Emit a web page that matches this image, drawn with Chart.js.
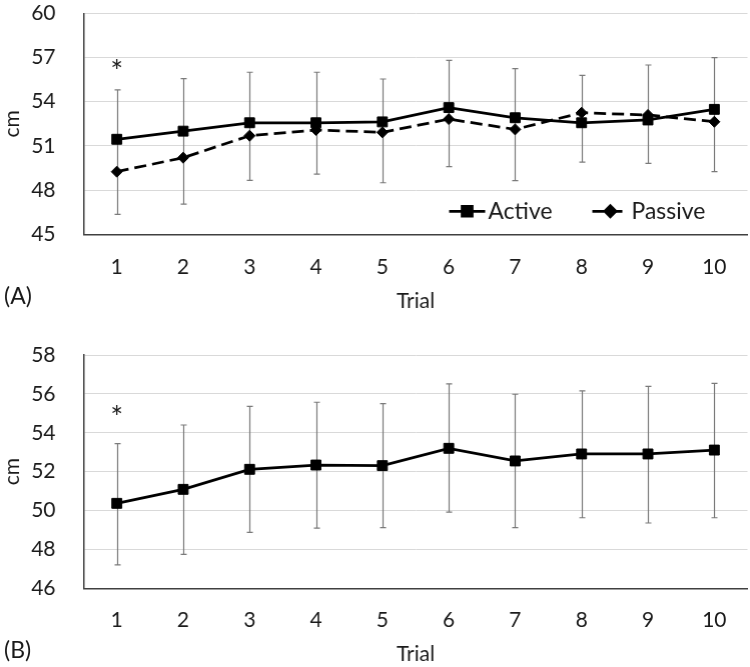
<!DOCTYPE html>
<html>
<head>
<meta charset="utf-8">
<script src="https://cdn.jsdelivr.net/npm/chart.js@4.4.1/dist/chart.umd.min.js"></script>
<style>
  html, body { margin: 0; padding: 0; background: #fff; overflow: hidden; }
  #wrap { position: relative; width: 750px; height: 667px; overflow: hidden; font-family: Lato, sans-serif; color: #1a1a1a; }
  .panel { position: absolute; left: 0; width: 754.5px; }
  .tag { position: absolute; left: 4px; font-size: 23px; line-height: 23px; }
</style>
</head>
<body>
<div id="wrap">
  <div class="panel" style="top:0;height:333px"><canvas id="chartA"></canvas></div>
  <div class="panel" style="top:333px;height:334px"><canvas id="chartB"></canvas></div>
  <div class="tag" style="top:284px">(A)</div>
  <div class="tag" style="top:638px">(B)</div>
</div>
<script>
// x categories
var trials = ['1', '2', '3', '4', '5', '6', '7', '8', '9', '10'];

// (A) active vs passive
var activeA  = [51.45, 52.0, 52.57, 52.57, 52.63, 53.6, 52.91, 52.57, 52.76, 53.48];
var passiveA = [49.25, 50.2, 51.69, 52.08, 51.92, 52.82, 52.12, 53.25, 53.1, 52.64];
var barHighA = [54.8, 55.56, 56.0, 56.0, 55.54, 56.81, 56.24, 55.79, 56.49, 56.99];
var barLowA  = [46.35, 47.05, 48.66, 49.09, 48.5, 49.59, 48.64, 49.9, 49.82, 49.25];
var yTicksA  = [45, 48, 51, 54, 57, 60];
var starA    = 56.0;   // "*" over trial 1

// (B) single series
var meanB    = [50.37, 51.09, 52.12, 52.34, 52.31, 53.2, 52.55, 52.91, 52.91, 53.11];
var barHighB = [53.44, 54.4, 55.36, 55.57, 55.5, 56.51, 55.98, 56.15, 56.39, 56.54];
var barLowB  = [47.2, 47.75, 48.88, 49.1, 49.12, 49.92, 49.12, 49.63, 49.36, 49.63];
var yTicksB  = [46, 48, 50, 52, 54, 56, 58];
var starB    = 54.75;

Chart.defaults.font.family = 'Lato';
Chart.defaults.color = '#1a1a1a';

var tickFont = { family: 'Lato', size: 21 };

// 誤差線 (drawn under the lines)
function errorBars(high, low) {
    return {
        id: 'errorBars',
        beforeDatasetsDraw: function(chart) {
            var x = chart.scales.x, y = chart.scales.y, ctx = chart.ctx;
            ctx.save();
            ctx.strokeStyle = '#7a7a7a';
            ctx.lineWidth = 1.2;
            high.forEach(function(hi, i) {
                var px = Math.round(x.getPixelForValue(i)) + 0.5;
                var top = y.getPixelForValue(hi);
                var bot = y.getPixelForValue(low[i]);
                ctx.beginPath();
                ctx.moveTo(px, top); ctx.lineTo(px, bot);
                ctx.moveTo(px - 3, top); ctx.lineTo(px + 3, top);
                ctx.moveTo(px - 3, bot); ctx.lineTo(px + 3, bot);
                ctx.stroke();
            });
            ctx.restore();
        }
    };
}

function starMark(value) {
    return {
        id: 'starMark',
        afterDatasetsDraw: function(chart) {
            var ctx = chart.ctx;
            ctx.save();
            ctx.font = '30px Lato';
            ctx.fillStyle = '#1a1a1a';
            ctx.textAlign = 'center';
            ctx.textBaseline = 'middle';
            ctx.fillText('*', chart.scales.x.getPixelForValue(0), chart.scales.y.getPixelForValue(value));
            ctx.restore();
        }
    };
}

// legend inside the plot, lower right
var insideLegend = {
    id: 'insideLegend',
    afterDatasetsDraw: function(chart) {
        var ctx = chart.ctx, area = chart.chartArea;
        var y = area.bottom - 23;
        var starts = [area.right - 298, area.right - 155];
        ctx.save();
        chart.data.datasets.forEach(function(ds, i) {
            var x0 = starts[i];
            ctx.strokeStyle = '#000';
            ctx.lineWidth = ds.borderWidth;
            ctx.setLineDash(ds.borderDash || []);
            ctx.beginPath();
            ctx.moveTo(x0, y); ctx.lineTo(x0 + 36, y);
            ctx.stroke();
            ctx.setLineDash([]);
            ctx.fillStyle = '#000';
            Chart.helpers.drawPoint(ctx, {
                pointStyle: ds.pointStyle, radius: ds.pointRadius, borderWidth: 1, rotation: 0
            }, x0 + 18, y);
            ctx.font = '23px Lato';
            ctx.fillStyle = '#1a1a1a';
            ctx.textAlign = 'left';
            ctx.textBaseline = 'middle';
            ctx.fillText(ds.label, x0 + 39, y);
        });
        ctx.restore();
    }
};

function buildOptions(ticks, padTop, xHeight, tickPad, titlePad) {
    return {
        responsive: true,
        maintainAspectRatio: false,
        animation: false,
        layout: { padding: { top: padTop, right: 0, left: 0, bottom: 0 } },
        plugins: {
            legend: { display: false },
            tooltip: { enabled: false }
        },
        scales: {
            x: {
                type: 'category',
                offset: true,
                grid: { display: false },
                border: { display: true, color: '#404040', width: 1.5 },
                ticks: { font: tickFont, color: '#1a1a1a', padding: tickPad, maxRotation: 0 },
                title: { display: true, text: 'Trial', font: tickFont, color: '#1a1a1a', padding: { top: 0, bottom: titlePad } },
                afterFit: function(s) { s.height = xHeight; s.paddingLeft = 0; s.paddingRight = 0; }
            },
            y: {
                min: ticks[0],
                max: ticks[ticks.length - 1],
                grid: { color: '#d9d9d9', lineWidth: 1, drawTicks: false },
                border: { display: true, color: '#404040', width: 1.5 },
                ticks: { font: tickFont, color: '#1a1a1a', padding: 28 },
                title: { display: true, text: 'cm', font: tickFont, color: '#1a1a1a', padding: { top: 0, bottom: 0 } },
                afterBuildTicks: function(axis) {
                    axis.ticks = ticks.map(function(v) { return { value: v }; });
                },
                afterFit: function(s) { s.width = 83.5; s.paddingTop = 0; s.paddingBottom = 0; }
            }
        }
    };
}

var activeStyle = {
    borderColor: '#000', backgroundColor: '#000', borderWidth: 2.75,
    pointStyle: 'rect', pointRadius: 7, pointBorderWidth: 1,
    pointBackgroundColor: '#000', pointBorderColor: '#000', tension: 0
};

new Chart(document.getElementById('chartA').getContext('2d'), {
    type: 'line',
    data: {
        labels: trials,
        datasets: [
            Object.assign({ label: 'Active', data: activeA }, activeStyle),
            {
                label: 'Passive', data: passiveA,
                borderColor: '#000', backgroundColor: '#000', borderWidth: 2.75,
                borderDash: [12, 6],
                pointStyle: 'rectRot', pointRadius: 5.5, pointBorderWidth: 1,
                pointBackgroundColor: '#000', pointBorderColor: '#000', tension: 0
            }
        ]
    },
    options: buildOptions(yTicksA, 13.3, 333 - 234.3, 12, 19),
    plugins: [errorBars(barHighA, barLowA), starMark(starA), insideLegend]
});

new Chart(document.getElementById('chartB').getContext('2d'), {
    type: 'line',
    data: {
        labels: trials,
        datasets: [ Object.assign({ label: 'Mean', data: meanB }, activeStyle) ]
    },
    options: buildOptions(yTicksB, 22, 334 - 255.3, 11, 0),
    plugins: [errorBars(barHighB, barLowB), starMark(starB)]
});
</script>
</body>
</html>
